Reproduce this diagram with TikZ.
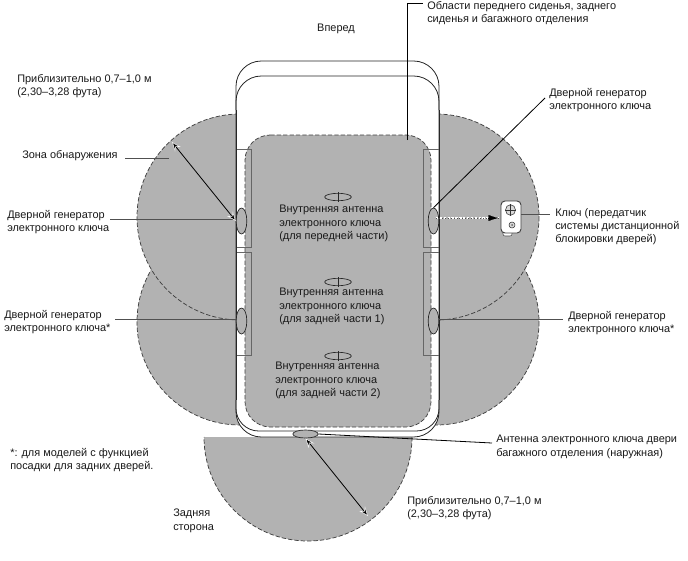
\documentclass[tikz,border=0pt]{standalone}
\usepackage{fontspec}
\setmainfont{Liberation Sans}
\usetikzlibrary{shapes.geometric,arrows.meta}
\definecolor{zone}{HTML}{B2B2B2}
\definecolor{lead}{HTML}{505050}
\tikzset{
 x=0.75pt,y=-0.75pt,
 lbl/.style={inner sep=0pt,anchor=north west,align=left,font=\fontsize{8.2}{10}\selectfont,text=black!90},
 zonefill/.style={fill=zone,draw=black!75,dash pattern=on 3.2pt off 1.6pt,line width=.55pt},
 body/.style={draw=black!85,line width=.6pt},
 doorbox/.style={draw=black!60,line width=.55pt},
 oval/.style={ellipse,draw=black!85,fill=zone,inner sep=0pt,line width=.5pt},
 ovaldoor/.style={oval,minimum width=8pt,minimum height=19.5pt},
 ovalant/.style={ellipse,draw=black!85,inner sep=0pt,line width=.5pt,minimum width=20pt,minimum height=5.5pt},
 leader/.style={draw=lead,line width=.75pt},
 leaderk/.style={draw=black,line width=.6pt},
 rangearrow/.style={draw=black,line width=.6pt,{Stealth[length=7pt,width=5.5pt,fill=black,color=white,line width=.4pt]}-{Stealth[length=7pt,width=5.5pt,fill=black,color=white,line width=.4pt]}},
}
\begin{document}
\begin{tikzpicture}
\useasboundingbox (0,0) rectangle (688,560);
\fill[white] (0,0) rectangle (688,560);
% detection zones: rear lobes first, front lobes over them
\foreach \cx/\cy in {240/322,436/322,240/217,436/217}{\path[zonefill] (\cx,\cy) circle[radius=103];}
\fill[zone] (204,437) -- (412,437) arc[start angle=0,end angle=180,radius=104] -- cycle;
\draw[zonefill,fill=none] (412,437) arc[start angle=0,end angle=180,radius=104];
% vehicle
\draw[body,fill=white,rounded corners=19pt] (236,61) rectangle (439,437);
\draw[body,rounded corners=19pt] (236,110) -- (236,76) -- (439,76) -- (439,110);
\draw[body,rounded corners=17pt] (236,400) -- (236,431) -- (439,431) -- (439,400);
% interior area
\path[zonefill,rounded corners=19pt] (245,135) -- (431,135) -- (431,427) -- (245,427) -- cycle;
% door boxes
\draw[doorbox] (236,149) rectangle (251,247);
\draw[doorbox] (236,252) rectangle (251,355);
\draw[doorbox] (423,149) rectangle (439,247);
\draw[doorbox] (423,252) rectangle (439,355);
\draw[body] (236,110) -- (236,400) (439,110) -- (439,400);
% oscillators
\node[ovaldoor] (fl) at (241.5,221) {};
\node[ovaldoor] (rl) at (241.5,321) {};
\node[ovaldoor] (fr) at (433.5,221) {};
\node[ovaldoor] (rr) at (433.5,321) {};
\node[oval,minimum width=19pt,minimum height=6pt] (back) at (305.5,434) {};
% interior antennas
\node[ovalant] (a1) at (338,197) {};
\node[ovalant] (a2) at (338,282) {};
\node[ovalant] (a3) at (338,356) {};
\foreach \n in {a1,a2,a3}{\draw[line width=.5pt,draw=black!85] ([yshift=3.4pt]\n.center) -- ([yshift=-3.4pt]\n.center);}
% key
\fill[white,draw=black!70,line width=.4pt,rounded corners=1.5pt] (503,229) rectangle (512,236);
\node[draw=black!75,fill=white,rounded corners=3pt,line width=.7pt,minimum width=15pt,minimum height=24pt,inner sep=0pt] (key) at (511,217) {};
\node[ellipse,draw=black!80,fill=black!15,minimum width=7.5pt,minimum height=8pt,inner sep=0pt,line width=.4pt] (kb) at (510.5,210) {};
\draw[black!80,line width=.35pt] (kb.west) -- (kb.east) (kb.north) -- (kb.south);
\node[circle,draw=black!80,fill=black!15,minimum size=4.5pt,inner sep=0pt,line width=.4pt] (kc) at (512,225) {};
\fill[black!60] (kc) circle[radius=1];
% key arrow
\coordinate (krs) at (436,218);
\coordinate (kre) at (498,218);
\draw[white,line width=1.5pt,dash pattern=on 1.8pt off 1.1pt] (krs) -- (kre);
\draw[black!70,line width=.3pt,dash pattern=on .6pt off 1.6pt] (krs) -- (kre);
\draw[-{Latex[length=7pt,width=4.5pt]},black,line width=.1pt] (488,218) -- (kre);
% labels
\node[lbl,anchor=center] (front) at (336,29) {Вперед};
\node[lbl] (ltop) at (427,1) {Области переднего сиденья, заднего\\сиденья и багажного отделения};
\node[lbl] (lrange1) at (17,74) {Приблизительно 0,7–1,0 м\\(2,30–3,28 фута)};
\node[lbl] (lzone) at (22,150) {Зона обнаружения};
\node[lbl] (lfl) at (7,210) {Дверной генератор\\электронного ключа};
\node[lbl] (lrl) at (4,310) {Дверной генератор\\электронного ключа*};
\node[lbl] (lfr) at (549,88) {Дверной генератор\\электронного ключа};
\node[lbl] (lrr) at (568,311) {Дверной генератор\\электронного ключа*};
\node[lbl] (lkey) at (555,208) {Ключ (передатчик\\системы дистанционной\\блокировки дверей)};
\node[lbl] (la1) at (279,205) {Внутренняя антенна\\электронного ключа\\(для передней части)};
\node[lbl] (la2) at (279,288) {Внутренняя антенна\\электронного ключа\\(для задней части 1)};
\node[lbl] (la3) at (275,362) {Внутренняя антенна\\электронного ключа\\(для задней части 2)};
\node[lbl] (lback) at (496,435) {Антенна электронного ключа двери\\багажного отделения (наружная)};
\node[lbl] (lnote) at (10,448) {*: для моделей с функцией\\посадки для задних дверей.};
\node[lbl] (lrange2) at (407,496) {Приблизительно 0,7–1,0 м\\(2,30–3,28 фута)};
\node[lbl] (lrear) at (173,509) {Задняя\\сторона};
% leaders
\coordinate (zonestart) at (125,158);
\coordinate (zoneend) at (169,158);
\coordinate (topbend) at (407,3);
\coordinate (topbend2) at (423,3);
\coordinate (topend) at (407,140);
\coordinate (flstart) at (110,219);
\coordinate (rlstart) at (115,319);
\coordinate (rrend) at (563,319);
\coordinate (keyend) at (550,214);
\coordinate (frend) at (545,98);
\coordinate (backend) at (492,443);
\draw[leader] (zonestart) -- (zoneend);
\draw[leader] (flstart) -- (fl.west |- flstart);
\draw[leader] (rlstart) -- (rl.west |- rlstart);
\draw[leader] (rr.east |- rrend) -- (rrend);
\draw[leader] (key.east |- keyend) -- (keyend);
\draw[leaderk] (topend) -- (topbend) -- (topbend2);
\draw[leaderk] (fr.north) -- (frend);
\draw[leaderk] (back.east) -- (backend);
% range arrows
\coordinate (r1s) at (172,142);
\coordinate (r2s) at (368,516);
\draw[rangearrow] (r1s) -- (fl.west);
\draw[rangearrow] (back.south) -- (r2s);
\end{tikzpicture}
\end{document}
